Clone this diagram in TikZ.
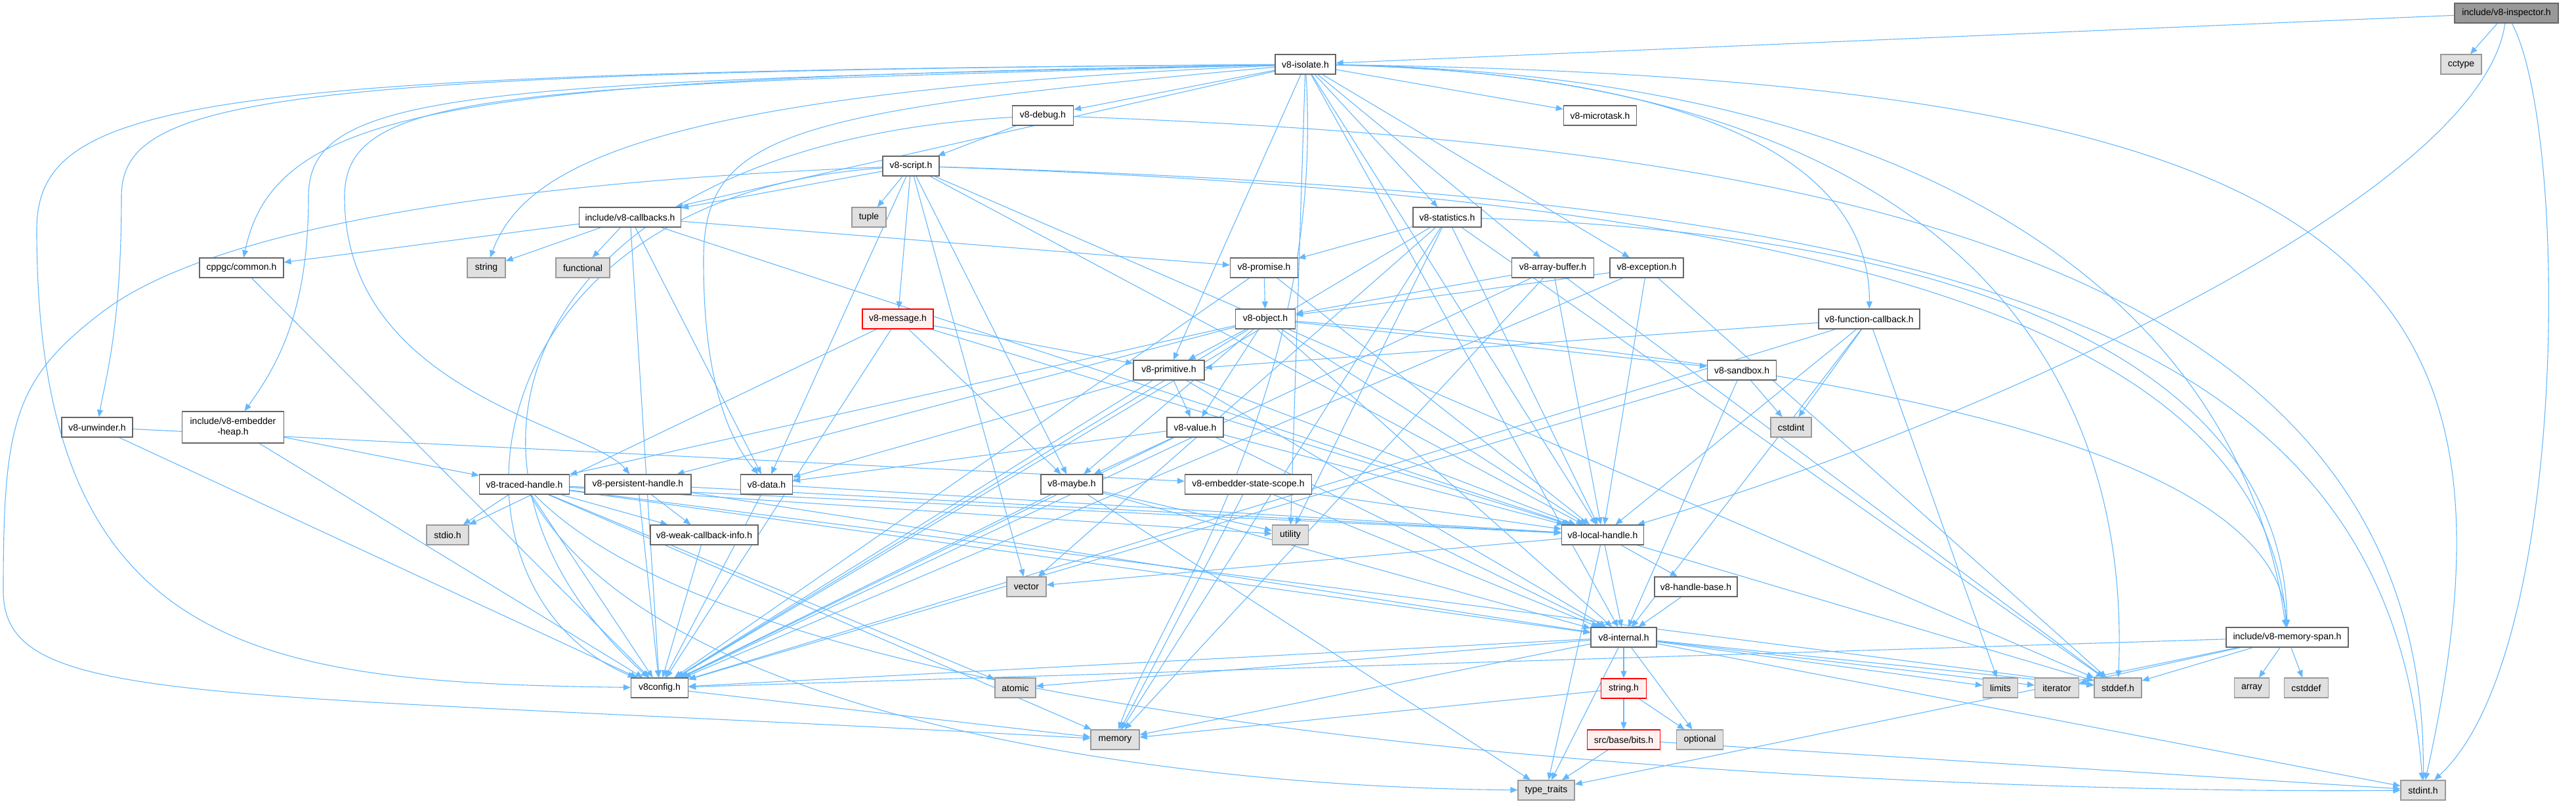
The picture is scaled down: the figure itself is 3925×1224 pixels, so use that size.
\documentclass[tikz,border=0pt]{standalone}
\usepackage{fontspec}
\setmainfont{Liberation Sans}
\usetikzlibrary{arrows.meta}
\definecolor{edgec}{HTML}{63B8FF}
\definecolor{nborder}{HTML}{666666}
\definecolor{extfill}{HTML}{E0E0E0}
\definecolor{extborder}{HTML}{999999}
\definecolor{redfill}{HTML}{FFF0F0}
\definecolor{redborder}{HTML}{FF0000}
\definecolor{rootfill}{HTML}{999999}
\definecolor{rootborder}{HTML}{666666}
\pgfdeclarelayer{bg}
\pgfsetlayers{bg,main}
\begin{document}
\begin{tikzpicture}[x=1pt,y=-1pt,
  nd/.style={draw=nborder, fill=white, line width=1.3pt, minimum height=30pt, inner sep=0pt, font=\fontsize{14}{16}\selectfont},
  ext/.style={nd, fill=extfill, draw=extborder},
  redbox/.style={nd, fill=redfill, draw=redborder},
  rootbox/.style={nd, fill=rootfill, draw=rootborder},
  conn/.style={draw=edgec, line width=1.1pt, -{Triangle[length=11pt,width=9pt]}}
]
\useasboundingbox (0,0) rectangle (3925,1224);
% nodes
\node[rootbox, minimum width=158pt] (insp) at (3819,20) {include/v8-inspector.h};
\node[ext, minimum width=62pt] (cctype) at (3750,98) {cctype};
\node[nd, minimum width=92pt] (isolate) at (1989,98) {v8-isolate.h};
\node[nd, minimum width=93pt] (debug) at (1589,176) {v8-debug.h};
\node[nd, minimum width=111pt] (microtask) at (2438,176) {v8-microtask.h};
\node[nd, minimum width=86pt] (script) at (1388,253) {v8-script.h};
\node[nd, minimum width=155pt] (callbacks) at (960,331) {include/v8-callbacks.h};
\node[ext, minimum width=52pt] (tuple) at (1324,331) {tuple};
\node[nd, minimum width=104pt] (statistics) at (2205,331) {v8-statistics.h};
\node[nd, minimum width=128pt] (common) at (368,408) {cppgc/common.h};
\node[ext, minimum width=58pt] (string) at (741,408) {string};
\node[ext, minimum width=82pt] (functional) at (888,408) {functional};
\node[nd, minimum width=103pt] (promise) at (1926,408) {v8-promise.h};
\node[nd, minimum width=125pt] (arraybuf) at (2366,408) {v8-array-buffer.h};
\node[nd, minimum width=112pt] (exception) at (2509,408) {v8-exception.h};
\node[redbox, minimum width=108pt] (message) at (1368,486) {v8-message.h};
\node[nd, minimum width=91pt] (object) at (1928,486) {v8-object.h};
\node[nd, minimum width=154pt] (funccb) at (2848,486) {v8-function-callback.h};
\node[nd, minimum width=108pt] (primitive) at (1781,564) {v8-primitive.h};
\node[nd, minimum width=105pt] (sandbox) at (2654,564) {v8-sandbox.h};
\node[nd, minimum width=108pt] (unwinder) at (148,651) {v8-unwinder.h};
\node[nd, minimum width=155pt, minimum height=48pt, align=center] (embheap) at (355,651) {include/v8-embedder\\-heap.h};
\node[nd, minimum width=86pt] (value) at (1821,651) {v8-value.h};
\node[ext, minimum width=62pt] (cstdint) at (2729,651) {cstdint};
\node[nd, minimum width=137pt] (traced) at (799,738) {v8-traced-handle.h};
\node[nd, minimum width=162pt] (persistent) at (972,738) {v8-persistent-handle.h};
\node[nd, minimum width=79pt] (data) at (1168,738) {v8-data.h};
\node[nd, minimum width=94pt] (maybe) at (1633,738) {v8-maybe.h};
\node[nd, minimum width=193pt] (embstate) at (1902,738) {v8-embedder-state-scope.h};
\node[ext, minimum width=64pt] (stdio) at (682,815) {stdio.h};
\node[nd, minimum width=164pt] (weak) at (1073,815) {v8-weak-callback-info.h};
\node[ext, minimum width=55pt] (utility) at (1966,815) {utility};
\node[nd, minimum width=125pt] (localh) at (2442,815) {v8-local-handle.h};
\node[ext, minimum width=60pt] (vector) at (1564,894) {vector};
\node[nd, minimum width=126pt] (handlebase) at (2584,894) {v8-handle-base.h};
\node[nd, minimum width=100pt] (internal) at (2474,971) {v8-internal.h};
\node[nd, minimum width=186pt] (memspan) at (3485,971) {include/v8-memory-span.h};
\node[nd, minimum width=87pt] (v8config) at (1005,1048) {v8config.h};
\node[ext, minimum width=62pt] (atomic) at (1547,1048) {atomic};
\node[redbox, minimum width=69pt] (stringh) at (2474,1049) {string.h};
\node[ext, minimum width=53pt] (limits) at (3048,1048) {limits};
\node[ext, minimum width=67pt] (iterator) at (3134,1048) {iterator};
\node[ext, minimum width=72pt] (stddef) at (3227,1048) {stddef.h};
\node[ext, minimum width=53pt] (array) at (3431,1048) {array};
\node[ext, minimum width=67pt] (cstddef) at (3514,1048) {cstddef};
\node[ext, minimum width=74pt] (memory) at (1699,1127) {memory};
\node[redbox, minimum width=111pt] (bits) at (2474,1127) {src/base/bits.h};
\node[ext, minimum width=71pt] (optional) at (2590,1127) {optional};
\node[ext, minimum width=86pt] (typetraits) at (2356,1204) {type\_traits};
\node[ext, minimum width=68pt] (stdint) at (3692,1204) {stdint.h};
\begin{pgfonlayer}{bg}
% straight connectors
\foreach \a/\b in {insp/isolate, insp/cctype,
 isolate/debug, isolate/microtask, isolate/statistics, isolate/arraybuf, isolate/exception,
 isolate/callbacks, isolate/primitive, isolate/localh, isolate/internal, isolate/utility,
 debug/script,
 script/tuple, script/callbacks, script/message, script/data, script/maybe, script/vector, script/localh, script/stddef,
 callbacks/common, callbacks/string, callbacks/functional, callbacks/data, callbacks/promise, callbacks/localh, callbacks/v8config,
 common/v8config,
 statistics/promise, statistics/localh, statistics/memory, statistics/utility, statistics/vector, statistics/v8config, statistics/stddef,
 promise/object, promise/localh, promise/v8config,
 arraybuf/object, arraybuf/localh, arraybuf/memory, arraybuf/v8config, arraybuf/stddef,
 exception/object, exception/localh, exception/v8config, exception/stddef,
 message/maybe, message/primitive, message/localh, message/stdio, message/v8config,
 object/primitive, object/value, object/sandbox, object/traced, object/persistent, object/localh, object/internal, object/maybe, object/v8config,
 funccb/cstdint, funccb/primitive, funccb/localh, funccb/internal, funccb/limits, funccb/v8config,
 primitive/value, primitive/data, primitive/internal, primitive/localh, primitive/v8config,
 sandbox/cstdint, sandbox/internal, sandbox/v8config,
 unwinder/v8config, unwinder/embstate,
 embheap/traced, embheap/v8config,
 value/maybe, value/data, value/localh, value/internal, value/v8config,
 traced/stdio, traced/v8config, traced/weak, traced/atomic, traced/memory, traced/localh, traced/internal, traced/stddef, traced/utility,
 persistent/weak, persistent/v8config, persistent/localh, persistent/internal,
 data/localh, data/v8config,
 maybe/utility, maybe/typetraits, maybe/internal, maybe/v8config,
 embstate/localh, embstate/internal, embstate/memory,
 weak/v8config,
 localh/handlebase, localh/internal, localh/typetraits, localh/vector, localh/stddef,
 handlebase/internal,
 internal/stringh, internal/optional, internal/typetraits, internal/memory, internal/atomic, internal/v8config,
 internal/limits, internal/iterator, internal/stddef, internal/stdint,
 stringh/bits, stringh/optional, stringh/memory,
 bits/typetraits, bits/stdint,
 memspan/stddef, memspan/array, memspan/cstddef, memspan/iterator, memspan/typetraits, memspan/v8config,
 v8config/memory}
 \draw[conn] (\a) -- (\b);
% curved connectors
\draw[conn] (insp) .. controls (3780,300) and (3000,650) .. (localh);
\draw[conn] (insp) .. controls (3915,200) and (3915,1000) .. (stdint);
\draw[conn] (isolate) .. controls (400,110) and (185,150) .. (185,300) .. controls (185,500) and (160,580) .. (unwinder);
\draw[conn] (isolate) .. controls (300,110) and (56,150) .. (56,350) .. controls (56,1000) and (400,1040) .. (v8config);
\draw[conn] (isolate) .. controls (700,120) and (420,160) .. (common);
\draw[conn] (isolate) .. controls (700,125) and (470,140) .. (470,300) .. controls (470,480) and (420,560) .. (embheap);
\draw[conn] (isolate) .. controls (750,130) and (525,140) .. (525,300) .. controls (525,600) and (900,650) .. (persistent);
\draw[conn] (isolate) .. controls (1000,140) and (800,250) .. (string);
\draw[conn] (isolate) .. controls (1200,170) and (1070,200) .. (1072,400) .. controls (1072,600) and (1120,680) .. (data);
\draw[conn] (isolate) .. controls (2020,600) and (1760,950) .. (memory);
\draw[conn] (isolate) .. controls (3000,115) and (3420,500) .. (memspan);
\draw[conn] (isolate) .. controls (2900,115) and (3250,500) .. (stddef);
\draw[conn] (isolate) .. controls (3600,120) and (3870,400) .. (stdint);
\draw[conn] (isolate) .. controls (2700,115) and (2850,300) .. (funccb);
\draw[conn] (debug) .. controls (800,220) and (620,700) .. (v8config);
\draw[conn] (debug) .. controls (2800,220) and (3700,400) .. (stdint);
\draw[conn] (script) .. controls (700,280) and (300,360) .. (150,480) .. controls (20,580) and (5,650) .. (5,900) .. controls (5,1080) and (300,1050) .. (memory);
\draw[conn] (script) .. controls (700,300) and (650,900) .. (v8config);
\draw[conn] (script) .. controls (2800,300) and (3450,500) .. (memspan);
\draw[conn] (script) .. controls (3000,300) and (3640,500) .. (stdint);
\draw[conn] (statistics) .. controls (3100,360) and (3480,600) .. (memspan);
\draw[conn] (object) .. controls (2900,560) and (3470,700) .. (memspan);
\draw[conn] (traced) .. controls (1000,1100) and (1800,1200) .. (typetraits);
\draw[conn] (traced) .. controls (1200,1150) and (3000,1210) .. (stdint);
\end{pgfonlayer}
\end{tikzpicture}
\end{document}
